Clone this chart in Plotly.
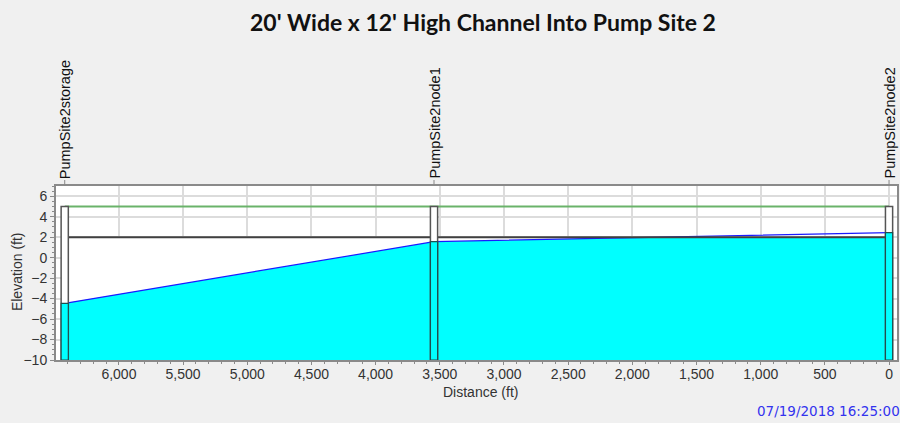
import plotly.graph_objects as go

# ---- data ----
node_names = ["PumpSite2storage", "PumpSite2node1", "PumpSite2node2"]
node_dist = [6422, 3545, 0]          # ft
node_invert = [-10, -10, -10]        # ft
node_rim = [5, 5, 5]                 # ft
hgl = [-4.46, 1.56, 2.44]            # water surface elevation, ft
conduit_height = 12                  # ft
x_ticks = [0, 500, 1000, 1500, 2000, 2500, 3000, 3500, 4000, 4500, 5000, 5500, 6000]
y_ticks = [-10, -8, -6, -4, -2, 0, 2, 4, 6]
title = "20' Wide x 12' High Channel Into Pump Site 2"
timestamp = "07/19/2018 16:25:00"

# ---- style ----
NODE_HALF = 28
CYAN = "#00FFFF"
FRAME = "#8a8a8a"
GRID = "#dcdcdc"
TXT = "#333333"
FONT = "Liberation Sans, Arial, sans-serif"
L, R, T, B = 56, 1, 186, 63
PW, PH = 900 - L - R, 423 - T - B

crown = [node_invert[i] + conduit_height for i in range(len(node_dist))]

fig = go.Figure()

# conduit interior (white)
cx = node_dist + node_dist[::-1]
cy = crown + node_invert[::-1]
fig.add_trace(go.Scatter(x=cx, y=cy, fill="toself", fillcolor="white",
                         line=dict(width=0), mode="lines", hoverinfo="skip", showlegend=False))

# water polygon clipped to crown
wx, wy = [], []
for i in range(len(node_dist) - 1):
    x0, x1 = node_dist[i], node_dist[i + 1]
    h0, h1 = hgl[i], hgl[i + 1]
    c0, c1 = crown[i], crown[i + 1]
    wx.append(x0); wy.append(min(h0, c0))
    d0, d1 = h0 - c0, h1 - c1
    if d0 * d1 < 0:
        t = d0 / (d0 - d1)
        wx.append(x0 + t * (x1 - x0)); wy.append(c0 + t * (c1 - c0))
wx.append(node_dist[-1]); wy.append(min(hgl[-1], crown[-1]))
wx += [node_dist[-1], node_dist[0]]
wy += [node_invert[-1], node_invert[0]]
fig.add_trace(go.Scatter(x=wx, y=wy, fill="toself", fillcolor=CYAN,
                         line=dict(width=0), mode="lines", hoverinfo="skip", showlegend=False))

# HGL line
fig.add_trace(go.Scatter(x=node_dist, y=hgl, mode="lines", line=dict(color="#1a1aff", width=1.2),
                         hoverinfo="skip", showlegend=False))
# crown line
fig.add_trace(go.Scatter(x=node_dist, y=crown, mode="lines", line=dict(color="#404040", width=2),
                         hoverinfo="skip", showlegend=False))
# rim (ground) line
fig.add_trace(go.Scatter(x=node_dist, y=node_rim, mode="lines", line=dict(color="#6ab36a", width=2),
                         hoverinfo="skip", showlegend=False))

shapes = []
annotations = []
for i, name in enumerate(node_names):
    xd = node_dist[i]
    shapes.append(dict(type="rect", xref="x", yref="y", x0=xd - NODE_HALF, x1=xd + NODE_HALF,
                       y0=node_invert[i], y1=node_rim[i], fillcolor="white",
                       line=dict(color="#555555", width=1.5), layer="above"))
    shapes.append(dict(type="rect", xref="x", yref="y", x0=xd - NODE_HALF, x1=xd + NODE_HALF,
                       y0=node_invert[i], y1=hgl[i], fillcolor=CYAN,
                       line=dict(color="#1f4f4f", width=1.2), layer="above"))
    shapes.append(dict(type="line", xref="x", yref="paper", x0=xd, x1=xd, y0=1, y1=1 + 6 / PH,
                       line=dict(color="#888888", width=1)))
    annotations.append(dict(x=xd, y=1 + 5 / PH, xref="x", yref="paper", text=name, showarrow=False,
                            textangle=-90, xanchor="center", yanchor="bottom",
                            font=dict(family=FONT, size=14.5, color="#111111")))

# axis titles
annotations.append(dict(x=(17 - L) / PW, y=(360 - 272) / PH, xref="paper", yref="paper",
                        text="Elevation (ft)", showarrow=False, textangle=-90,
                        xanchor="center", yanchor="middle",
                        font=dict(family=FONT, size=14, color=TXT)))
annotations.append(dict(x=(482 - L) / PW, y=(360 - 392) / PH, xref="paper", yref="paper",
                        text="Distance (ft)", showarrow=False, xanchor="center", yanchor="middle",
                        font=dict(family=FONT, size=14, color=TXT)))
annotations.append(dict(x=(757 - L) / PW, y=(360 - 411) / PH, xref="paper", yref="paper", text=timestamp,
                        showarrow=False, xanchor="left", yanchor="middle",
                        font=dict(family="DejaVu Sans, sans-serif", size=13.5, color="#3333ee")))

fig.update_layout(
    width=900, height=423,
    margin=dict(l=L, r=R, t=T, b=B),
    paper_bgcolor="#f0f0f0", plot_bgcolor="white",
    title=dict(text=title, x=483 / 900, xanchor="center", y=1 - 23 / 423, yanchor="middle",
               font=dict(family="Lato, sans-serif", size=23, color="#111111", weight="bold")),
    shapes=shapes, annotations=annotations,
    showlegend=False,
)
fig.update_xaxes(range=[6490, -62], tickvals=x_ticks, tickformat=",", ticks="outside", ticklen=3,
                 tickcolor=FRAME, showgrid=True, gridcolor=GRID, gridwidth=2,
                 showline=True, linecolor=FRAME, linewidth=2, mirror=True, zeroline=False,
                 minor=dict(dtick=100, ticks="outside", ticklen=2, tickcolor=FRAME, showgrid=False),
                 ticklabelstandoff=-3,
                 tickfont=dict(family=FONT, size=14, color=TXT))
fig.update_yaxes(range=[-10, 7], tickvals=y_ticks, ticks="outside", ticklen=4,
                 tickcolor=FRAME, showgrid=True, gridcolor=GRID, gridwidth=2,
                 showline=True, linecolor=FRAME, linewidth=2, mirror=True, zeroline=False,
                 minor=dict(dtick=0.5, ticks="outside", ticklen=2, tickcolor=FRAME, showgrid=False),
                 tickfont=dict(family=FONT, size=14, color=TXT))

fig.write_html("out.html", config={"displayModeBar": False},
               post_script="document.body.style.margin='0';document.body.style.overflow='hidden';")
